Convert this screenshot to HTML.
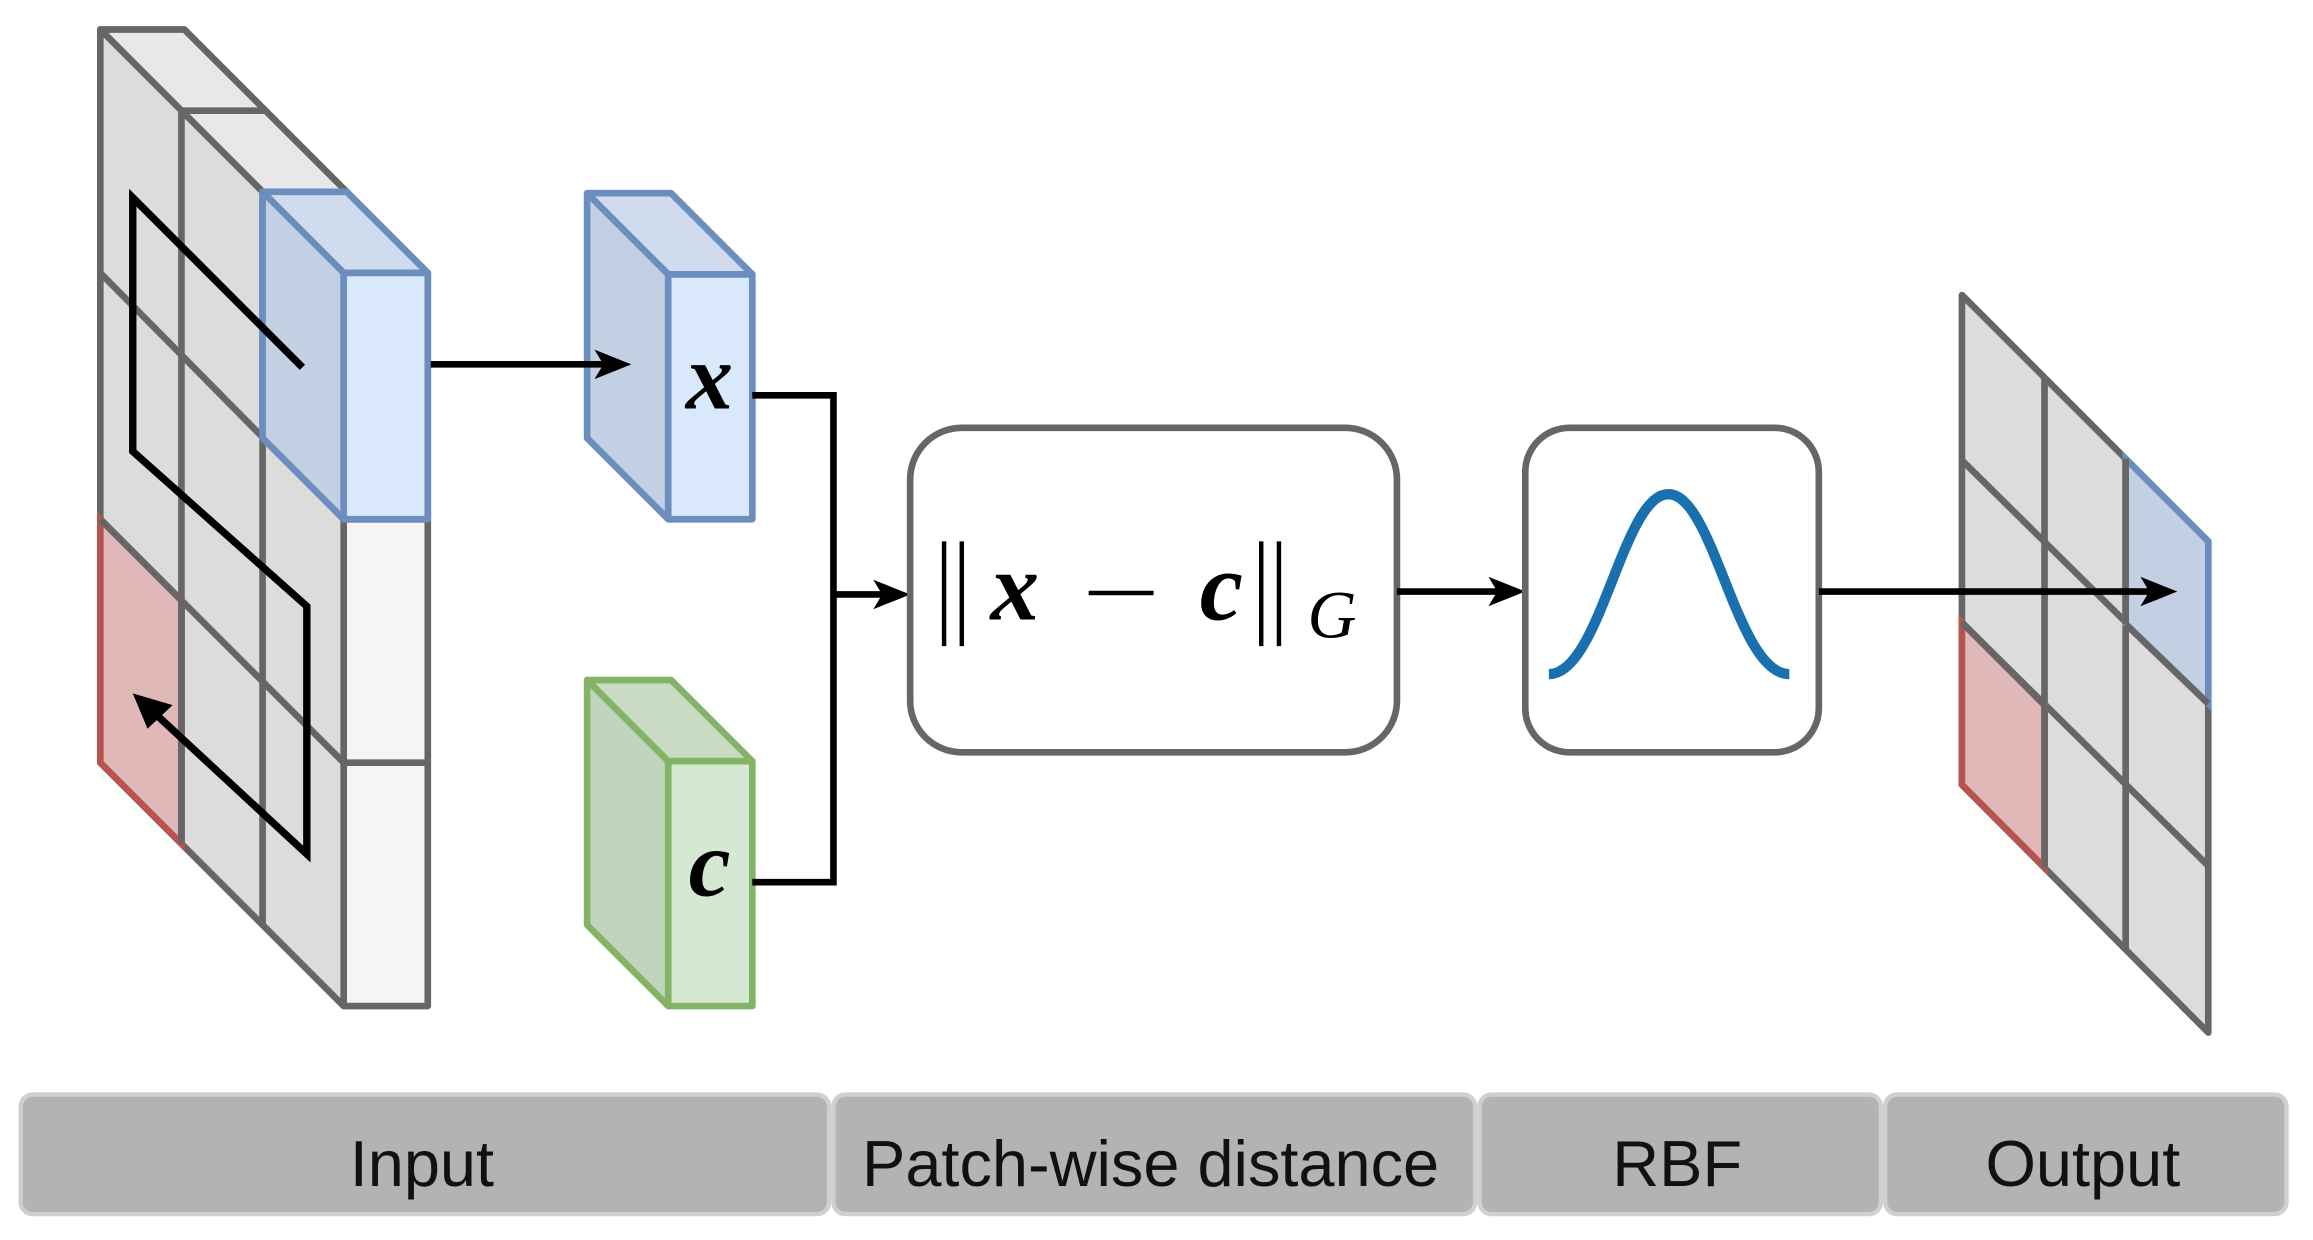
<!DOCTYPE html>
<html><head><meta charset="utf-8"><style>
html,body{margin:0;padding:0;background:#fff;}
svg{display:block;}
</style></head><body>
<svg width="2313" height="1240" viewBox="0 0 1568 840.6" preserveAspectRatio="none" xmlns="http://www.w3.org/2000/svg">
<g stroke="#666" stroke-width="4.5" stroke-linejoin="round">
<polygon points="68,20 125,20 290,185 233,185" fill="#e8e8e8"/>
<line x1="123" y1="75" x2="180" y2="75"/>
<rect x="233" y="185" width="57" height="497" fill="#f5f5f5"/>
<line x1="233" y1="352" x2="290" y2="352"/>
<line x1="233" y1="517" x2="290" y2="517"/>
<polygon points="68,20 233,185 233,682 68,517" fill="#dcdcdc"/>
<line x1="123" y1="75" x2="123" y2="572"/>
<line x1="178" y1="130" x2="178" y2="627"/>
<line x1="68" y1="185" x2="233" y2="352"/>
<line x1="68" y1="352" x2="233" y2="517"/>
</g>
<polygon points="68,352 123,407 123,572 68,517" fill="#e0b8b8" stroke="#b85450" stroke-width="4.5"/>
<line x1="123" y1="407" x2="68" y2="352" stroke="#666" stroke-width="4.5"/>
<line x1="123" y1="407" x2="123" y2="572" stroke="#666" stroke-width="4.5"/>
<g stroke="#6c8ebf" stroke-width="4.5" stroke-linejoin="round">
<polygon points="178,130 235,130 290,185 233,185" fill="#d0dcee"/>
<polygon points="178,130 233,185 233,352 178,297" fill="#c3cfe2"/>
<rect x="233" y="185" width="57" height="167" fill="#dae8fc"/>
</g>
<polyline points="205,249 90,134 90,306 208,411 208,579 100,479" fill="none" stroke="#000" stroke-width="5"/>
<polygon points="90,470 117,478 100,494" fill="#000"/>
<g stroke="#6c8ebf" stroke-width="4.5" stroke-linejoin="round">
<polygon points="398,131 455,131 510,186 453,186" fill="#d0dcee"/>
<polygon points="398,131 453,186 453,352 398,297" fill="#c3cfe2"/>
<rect x="453" y="186" width="57" height="166" fill="#dae8fc"/>
</g>
<line x1="292" y1="247" x2="415" y2="247" stroke="#000" stroke-width="4.5"/>
<polygon points="428,247 403,237 409,247 403,257" fill="#000"/>
<g stroke="#82b366" stroke-width="4.5" stroke-linejoin="round">
<polygon points="398,461 455,461 510,516 453,516" fill="#c9dcc3"/>
<polygon points="398,461 453,516 453,682 398,627" fill="#c0d3bd"/>
<rect x="453" y="516" width="57" height="166" fill="#d5e8d4"/>
</g>
<text x="481" y="277" font-family="Liberation Serif, serif" font-style="italic" font-weight="bold" font-size="64" text-anchor="middle">x</text>
<text x="481" y="607" font-family="Liberation Serif, serif" font-style="italic" font-weight="bold" font-size="64" text-anchor="middle">c</text>
<polyline points="510,268 565,268 565,598 510,598" fill="none" stroke="#000" stroke-width="4.5"/>
<line x1="565" y1="403" x2="603" y2="403" stroke="#000" stroke-width="4.5"/>
<polygon points="617,403 592,393 598,403 592,413" fill="#000"/>
<rect x="617" y="290" width="330" height="220" rx="35" fill="#fff" stroke="#666" stroke-width="4.5"/>
<g stroke="#000" stroke-width="3">
<line x1="640" y1="367" x2="640" y2="438"/><line x1="652" y1="367" x2="652" y2="438"/>
<line x1="855" y1="367" x2="855" y2="438"/><line x1="867" y1="367" x2="867" y2="438"/>
</g>
<text x="688" y="420" font-family="Liberation Serif, serif" font-style="italic" font-weight="bold" font-size="66" text-anchor="middle">x</text>
<line x1="738" y1="402" x2="782" y2="402" stroke="#000" stroke-width="3"/>
<text x="828" y="420" font-family="Liberation Serif, serif" font-style="italic" font-weight="bold" font-size="66" text-anchor="middle">c</text>
<text x="903" y="432" font-family="Liberation Serif, serif" font-style="italic" font-size="46" text-anchor="middle">G</text>
<line x1="947" y1="401" x2="1020" y2="401" stroke="#000" stroke-width="4.5"/>
<polygon points="1034,401 1009,391 1015,401 1009,411" fill="#000"/>
<rect x="1034" y="290" width="199" height="220" rx="30" fill="#fff" stroke="#666" stroke-width="4.5"/>
<path d="M1050,457 C1085,457 1100,335 1131,335 C1162,335 1177,457 1213,457" fill="none" stroke="#1a6faf" stroke-width="7"/>
<g stroke="#666" stroke-width="4.5" stroke-linejoin="round">
<polygon points="1330,200 1497,367 1497,700 1330,532" fill="#dcdcdc"/>
<line x1="1386" y1="256" x2="1386" y2="588"/>
<line x1="1441" y1="311" x2="1441" y2="643"/>
<line x1="1330" y1="312" x2="1497" y2="477"/>
<line x1="1330" y1="422" x2="1497" y2="587"/>
</g>
<polygon points="1330,422 1386,478 1386,588 1330,532" fill="#e0b8b8" stroke="#b85450" stroke-width="4.5"/>
<line x1="1330" y1="422" x2="1386" y2="478" stroke="#666" stroke-width="4.5"/>
<line x1="1386" y1="478" x2="1386" y2="588" stroke="#666" stroke-width="4.5"/>
<polygon points="1441,311 1497,367 1497,477 1441,423" fill="#c3cfe2" stroke="#6c8ebf" stroke-width="4.5"/>
<line x1="1441" y1="423" x2="1497" y2="477" stroke="#666" stroke-width="4.5"/>
<line x1="1441" y1="311" x2="1441" y2="423" stroke="#666" stroke-width="4.5"/>
<line x1="1233" y1="401" x2="1462" y2="401" stroke="#000" stroke-width="4.5"/>
<polygon points="1476,401 1451,391 1457,401 1451,411" fill="#000"/>
<g fill="#b3b3b3" stroke="#d0d0d0" stroke-width="3">
<rect x="14" y="742" width="548" height="81" rx="8"/>
<rect x="565" y="742" width="435" height="81" rx="8"/>
<rect x="1003" y="742" width="272" height="81" rx="8"/>
<rect x="1278" y="742" width="272" height="81" rx="8"/>
</g>
<g font-family="Liberation Sans, sans-serif" font-size="44" fill="#111" text-anchor="middle">
<text x="286" y="804">Input</text>
<text x="780" y="804">Patch-wise distance</text>
<text x="1137" y="804">RBF</text>
<text x="1412" y="804">Output</text>
</g>
</svg>
</body></html>
